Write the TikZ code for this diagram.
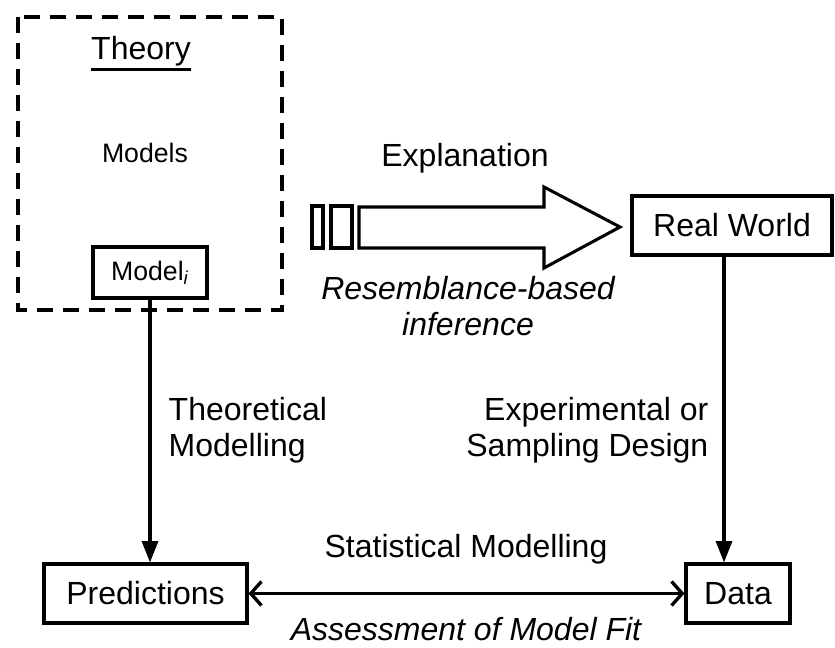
\documentclass[tikz,border=0pt]{standalone}
\usepackage{fontspec}
\setmainfont{Liberation Sans}
\usetikzlibrary{arrows.meta}
\newcommand\thickul[1]{\vtop{\hbox{#1}\kern1.2pt\hrule height 2.2pt}}

\begin{document}
\begin{tikzpicture}[x=0.75pt,y=-0.75pt,
  box/.style={draw,line width=2.3pt,inner sep=0pt,minimum height=44.25pt,font=\fontsize{24}{27}\selectfont},
  lbl/.style={font=\fontsize{24}{27}\selectfont},
  lbli/.style={font=\fontsize{24}{27}\selectfont\itshape},
  small/.style={font=\fontsize{20}{24}\selectfont},
  down/.style={line width=2.3pt,-{Triangle[length=16pt,width=12pt]}},
  both/.style={line width=2.5pt,{Straight Barb[length=8pt,width=18pt]}-{Straight Barb[length=8pt,width=18pt]}}]
\useasboundingbox (0,0) rectangle (835,648);
% theory
\draw[line width=2.6pt,dash pattern=on 12pt off 7.5pt] (18,17) rectangle (282,310);
\node[lbl,anchor=base] (theory) at (141,60) {\thickul{Theory}};
\node[small,anchor=base] (models) at (145,163) {Models};
\node[box,small,minimum width=85.5pt,minimum height=38.25pt] (model) at (150,272.5) {Model\textsubscript{\textit{i}}};
% explanation arrow
\draw[line width=2.3pt] (312,206) rectangle (323,248);
\draw[line width=2.3pt] (331,206) rectangle (352,248);
\draw[line width=2.3pt] (359,207) -- (544,207) -- (544,187) -- (620,227) -- (544,268) -- (544,248) -- (359,248) -- cycle;
\node[lbl,anchor=base] (expl) at (465,167) {Explanation};
\node[lbli,align=center,anchor=base] (resem) at (468,336) {Resemblance-based\\inference};
\node[box,minimum width=150pt] (real) at (732,225.5) {Real World};
% bottom row
\node[box,minimum width=152.25pt] (pred) at (145.5,593.5) {Predictions};
\node[box,minimum width=78pt] (data) at (738,593.5) {Data};
\node[lbl,align=left,anchor=base west] (theo) at (164,456) {Theoretical\\Modelling};
\node[lbl,align=right,anchor=base east] (expt) at (713,456) {Experimental or\\Sampling Design};
\node[lbl,anchor=base] (stat) at (466,557) {Statistical Modelling};
\node[lbli,anchor=base] (fit) at (466,640) {Assessment of Model Fit};
% arrows
\draw[down] (model.south) -- (model.south |- pred.north);
\draw[down] ([xshift=-6pt]real.south) -- ([xshift=-6pt]real.south |- data.north);
\draw[both] (pred.east) -- (data.west);
\end{tikzpicture}
\end{document}
